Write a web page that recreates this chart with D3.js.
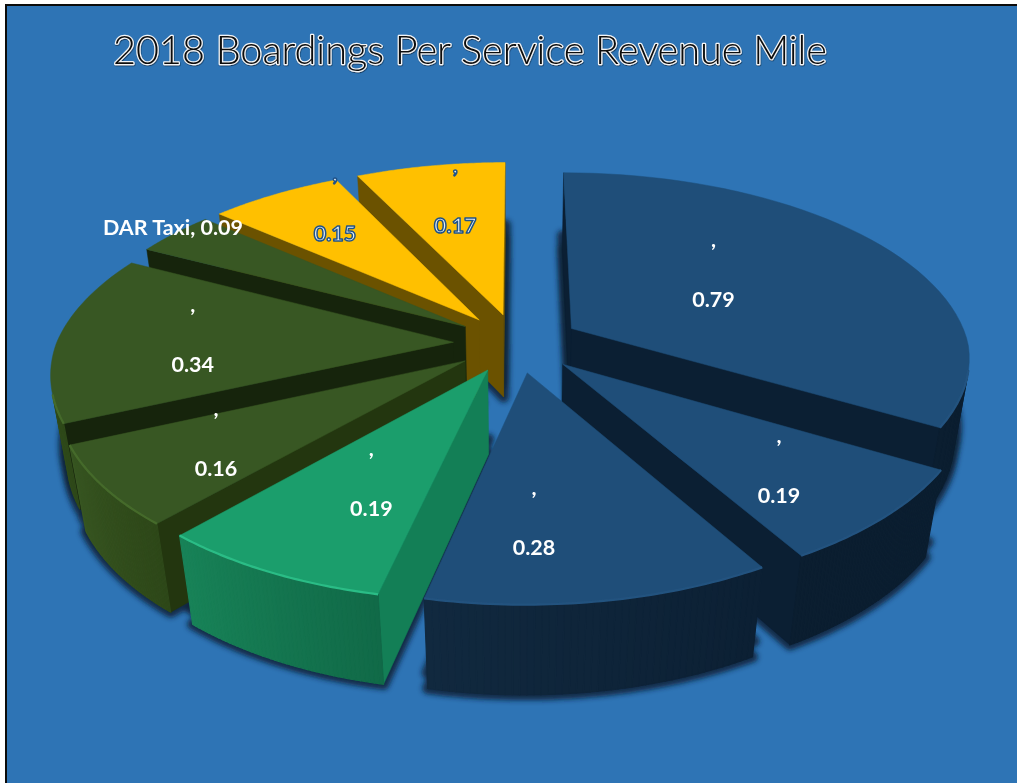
<!DOCTYPE html>
<html>
<head>
<meta charset="utf-8">
<title>2018 Boardings Per Service Revenue Mile</title>
<script src="https://cdn.jsdelivr.net/npm/d3@7"></script>
<style>
  html, body { margin: 0; padding: 0; background: #fff; }
  svg { display: block; }
  text { font-family: Lato, "Open Sans", sans-serif; }
</style>
</head>
<body>
<svg id="chart" width="1017" height="783"></svg>
<script>
// Boardings per service revenue mile, clockwise from twelve o'clock.
const categories = ["", "", "", "", "", "", "DAR Taxi", "", ""];
const boardings = [0.79, 0.19, 0.28, 0.19, 0.16, 0.34, 0.09, 0.15, 0.17];
const families = ["navy", "navy", "navy", "emerald", "olive", "olive", "olive", "gold", "gold"];
const chartTitle = "2018 Boardings Per Service Revenue Mile";

// Colours of each family: top surface, rim wall (light to dark), radial face, rim highlight.
const palette = {
  navy:    { top: "#1f4e79", wallA: "#11293f", wallB: "#0c2034", face: "#0b1f33", bevel: "#24527f" },
  emerald: { top: "#1b9e6c", wallA: "#188358", wallB: "#116a48", face: "#137f56", bevel: "#2bbd86" },
  olive:   { top: "#385723", wallA: "#375521", wallB: "#2e4819", face: "#16240c", bevel: "#456b2b" },
  gold:    { top: "#ffc000", wallA: "#7f6000", wallB: "#6b5200", face: "#6b5200", bevel: "#ffc000" }
};
// The olive wedge nearest the viewer catches more light on its cut face.
const faceOverride = { 4: "#23360f" };
// The two navy wedges on the right sit in shade along their whole rim.
const wallOverride = { 0: "#0b1e30", 1: "#0b1e30" };

// Projection of the pie plane: unit radius, perspective grows towards the viewer.
const view = {
  cx: 517, cy: 343, rx: 397, ry: 184.6, lift: 86, explode: 0.16, sink: 0.035,
  depthY: 0.158, depthBack: 0.169, depthFrontLeft: 0.15, depthFrontRight: 0.145, lean: 3
};
function project(u, v, z) {
  const d = v < 0 ? view.depthBack : (u < 0 ? view.depthFrontLeft : view.depthFrontRight);
  const sx = 1 / (1 - d * v + view.sink * z);
  const sy = 1 / (1 - view.depthY * v + view.sink * z);
  const drift = v > 0 ? view.lean * v * v : 0;
  return [view.cx + u * view.rx * sx - drift, view.cy + (v * view.ry + z * view.lift) * sy];
}
const onCircle = a => [Math.sin(a), -Math.cos(a)];

// Shoelace area in screen space, used to drop faces turned away from the viewer.
function area(pts) {
  return d3.sum(pts, (p, i) => {
    const q = pts[(i + 1) % pts.length];
    return p[0] * q[1] - q[0] * p[1];
  });
}

const outline = d3.line();
const closed = pts => outline(pts) + "Z";

const arcs = d3.pie().sort(null).value(d => d)(boardings);
const slices = arcs.map((arc, i) => {
  const mid = (arc.startAngle + arc.endAngle) / 2;
  const [ox, oy] = onCircle(mid).map(c => c * view.explode);
  const at = (a, r, z) => {
    const [x, y] = onCircle(a);
    return project(ox + x * r, oy + y * r, z);
  };
  const steps = d3.range(0, 49).map(k => arc.startAngle + (arc.endAngle - arc.startAngle) * k / 48);
  return { i, mid, ox, oy, at, steps, colours: palette[families[i]], value: boardings[i], name: categories[i] };
});

const svg = d3.select("#chart");
const defs = svg.append("defs");
defs.append("filter").attr("id", "soft").attr("x", "-10%").attr("y", "-10%").attr("width", "120%").attr("height", "120%")
  .append("feGaussianBlur").attr("stdDeviation", 2.6);
defs.append("filter").attr("id", "bevelBlur").attr("x", "-10%").attr("y", "-10%").attr("width", "120%").attr("height", "120%")
  .append("feGaussianBlur").attr("stdDeviation", 0.7);
const titleShadow = defs.append("filter").attr("id", "titleShadow").attr("x", "-5%").attr("y", "-20%").attr("width", "110%").attr("height", "140%");
titleShadow.append("feDropShadow").attr("dx", 0.5).attr("dy", 1).attr("stdDeviation", 0.6).attr("flood-color", "#0d2740").attr("flood-opacity", 0.75);

// Panel and its dark frame along the top and left.
svg.append("rect").attr("x", 6).attr("y", 5).attr("width", 1011).attr("height", 778).attr("fill", "#2e74b5");
svg.append("path").attr("d", "M6,783V5H1017").attr("fill", "none").attr("stroke", "#0b0b0b").attr("stroke-width", 2);

// Soft cast shadow under every wedge, kept beneath all the solid faces.
const shadowLayer = svg.append("g").attr("filter", "url(#soft)");
slices.forEach(s => {
  const ring = z => [s.at(0, 0, z)].concat(s.steps.map(a => s.at(a, 1, z)));
  [0.82, 1].forEach(z => {
    shadowLayer.append("path").attr("d", closed(ring(z)))
      .attr("fill", "#0b2036").attr("stroke", "#0b2036").attr("stroke-width", 11).attr("stroke-linejoin", "round").attr("opacity", 0.85);
  });
});

// Wedges painted from the far side of the pie to the near side.
const ordered = d3.sort(slices, s => s.oy);
ordered.forEach(s => {
  const g = svg.append("g");
  const first = s.steps[0], last = s.steps[s.steps.length - 1];
  const faceColour = faceOverride[s.i] || s.colours.face;
  const faces = [
    [s.at(first, 1, 0), s.at(0, 0, 0), s.at(0, 0, 1), s.at(first, 1, 1)],
    [s.at(0, 0, 0), s.at(last, 1, 0), s.at(last, 1, 1), s.at(0, 0, 1)]
  ];
  faces.filter(q => area(q) > 0).forEach(q => {
    g.append("path").attr("d", closed(q)).attr("fill", faceColour).attr("stroke", faceColour).attr("stroke-width", 0.5);
  });

  const wallTone = d3.interpolateRgb(s.colours.wallA, s.colours.wallB);
  const rimPts = [];
  d3.pairs(s.steps).forEach(([a, b], k) => {
    const q = [s.at(b, 1, 0), s.at(a, 1, 0), s.at(a, 1, 1), s.at(b, 1, 1)];
    if (area(q) > 0) {
      // The wall darkens towards the start of each wedge's arc.
      const tone = wallOverride[s.i] || wallTone(1 - k / 48);
      g.append("path").attr("d", closed(q)).attr("fill", tone).attr("stroke", tone).attr("stroke-width", 1.2);
      rimPts.push(s.at(a, 1, 0), s.at(b, 1, 0));
    }
  });

  const top = [s.at(0, 0, 0)].concat(s.steps.map(a => s.at(a, 1, 0)));
  g.append("path").attr("d", closed(top)).attr("fill", s.colours.top).attr("stroke", s.colours.top).attr("stroke-width", 0.5);

  if (rimPts.length && families[s.i] !== "gold") {
    g.append("path").attr("d", outline(rimPts)).attr("fill", "none")
      .attr("stroke", s.colours.bevel).attr("stroke-width", 2.2).attr("filter", "url(#bevelBlur)");
  }
});

// Data labels: the series name (empty for most), a comma, then the value lower down.
const labelReach = 0.65;
const labelNudge = [[-65, 2], [15, 12], [-39, 11], [18, -10], [-22, 4], [-4, 1], [0, 0], [-6, -26], [2, -12]];
const labels = svg.append("g").attr("text-anchor", "middle").attr("font-weight", 700).attr("font-size", 21.5);
slices.forEach(s => {
  const [ax, ay] = s.at(s.mid, labelReach, 0);
  const x = ax + labelNudge[s.i][0], y = ay + labelNudge[s.i][1];
  const isGold = families[s.i] === "gold";
  const style = t => isGold
    ? t.attr("fill", "#e8f0f6").attr("stroke", "#1f5288").attr("stroke-width", 1.5).attr("stroke-linejoin", "round")
    : t.attr("fill", "#fff");
  if (s.name) {
    labels.append("text").attr("x", 173).attr("y", 235).text(`${s.name}, ${s.value.toFixed(2)}`).call(style);
  } else {
    labels.append("text").attr("x", x).attr("y", y - 28).text(",").call(style);
    labels.append("text").attr("x", x).attr("y", y + 32).text(s.value.toFixed(2)).call(style);
  }
});

svg.append("text").attr("x", 113).attr("y", 64)
  .attr("font-size", 39).attr("font-weight", 300).attr("fill", "#0c0c0c")
  .attr("textLength", 714).attr("lengthAdjust", "spacingAndGlyphs")
  .attr("stroke", "#f4f6f8").attr("stroke-width", 2.4).attr("paint-order", "stroke").attr("stroke-linejoin", "round")
  .attr("filter", "url(#titleShadow)")
  .text(chartTitle);
</script>
</body>
</html>
